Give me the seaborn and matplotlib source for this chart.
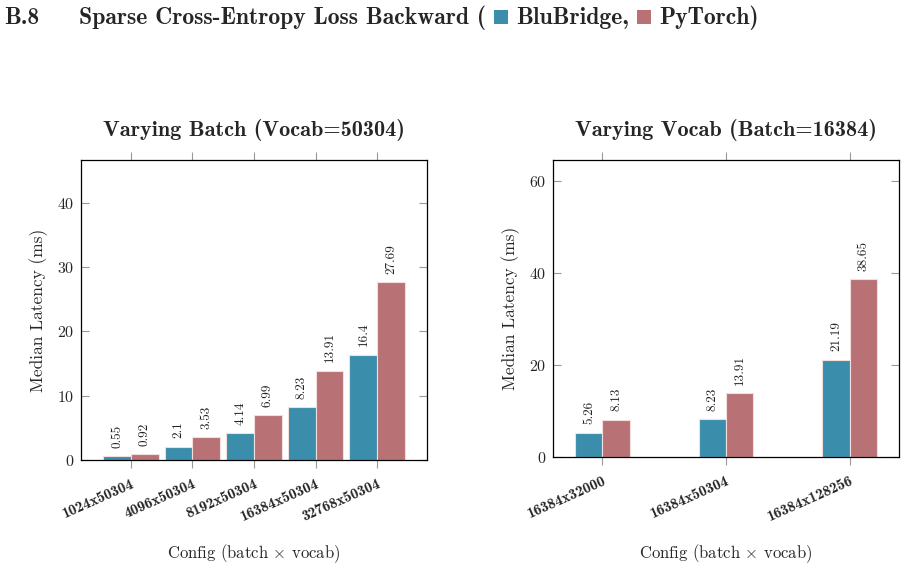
import numpy as np
import pandas as pd
import matplotlib
matplotlib.use("Agg")
import matplotlib.pyplot as plt
import seaborn as sns
from matplotlib.offsetbox import TextArea, DrawingArea, HPacker, AnchoredOffsetbox
from matplotlib.patches import Rectangle

sns.set_style("white")
plt.rcParams['font.family'] = ['cmr10', 'DejaVu Serif']
plt.rcParams['mathtext.fontset'] = 'cm'
plt.rcParams['axes.formatter.use_mathtext'] = True

# data
batch_configs = ["1024x50304", "4096x50304", "8192x50304", "16384x50304", "32768x50304"]
batch_blubridge = [0.55, 2.1, 4.14, 8.23, 16.4]
batch_pytorch = [0.92, 3.53, 6.99, 13.91, 27.69]

vocab_configs = ["16384x32000", "16384x50304", "16384x128256"]
vocab_blubridge = [5.26, 8.23, 21.19]
vocab_pytorch = [8.13, 13.91, 38.65]

series = ["BluBridge", "PyTorch"]
colors = {"BluBridge": "#3a8dab", "PyTorch": "#b87275"}

df_batch = pd.DataFrame({
    "config": batch_configs * 2,
    "impl": ["BluBridge"] * 5 + ["PyTorch"] * 5,
    "ms": batch_blubridge + batch_pytorch,
})
df_vocab = pd.DataFrame({
    "config": vocab_configs * 2,
    "impl": ["BluBridge"] * 3 + ["PyTorch"] * 3,
    "ms": vocab_blubridge + vocab_pytorch,
})

fig = plt.figure(figsize=(9.06, 5.64), dpi=100)
ax1 = fig.add_axes([0.0894, 0.1844, 0.382, 0.532])
ax2 = fig.add_axes([0.6104, 0.1897, 0.382, 0.5266])

bold = ['cmb10', 'DejaVu Serif']


def draw(ax, df, width, xlim, ylim, yticks, title):
    sns.barplot(data=df, x="config", y="ms", hue="impl", hue_order=series,
                palette=colors, width=width, dodge=True, ax=ax, saturation=1,
                edgecolor="#f3dede", linewidth=0.8, errorbar=None, legend=False)
    for c in ax.containers:
        ax.bar_label(c, fmt="%g", rotation=90, padding=6, fontsize=9.5,
                     color="#222222")
    ax.set_xlim(*xlim)
    ax.set_ylim(*ylim)
    ax.set_yticks(yticks)
    ax.set_title(title, fontsize=16, fontfamily=bold, pad=17)
    ax.set_ylabel("Median Latency (ms)", fontsize=12.5, labelpad=6)
    ax.set_xlabel(r"Config (batch $\times$ vocab)", fontsize=12, labelpad=13)
    for s in ax.spines.values():
        s.set_visible(True)
        s.set_color("black")
        s.set_linewidth(0.9)
    ax.tick_params(axis="y", direction="in", left=True, right=True,
                   length=6, color="#999999", labelsize=11.5, pad=5)
    ax.tick_params(axis="x", direction="out", bottom=True, top=True,
                   length=6, color="#999999", pad=6)
    for lab in ax.get_xticklabels():
        lab.set_rotation(24)
        lab.set_ha("right")
        lab.set_rotation_mode("anchor")
        lab.set_fontsize(11)
        lab.set_fontfamily(bold)


draw(ax1, df_batch, 0.9, (-0.81, 4.81), (0, 46.7), [0, 10, 20, 30, 40],
     "Varying Batch (Vocab=50304)")
draw(ax2, df_vocab, 0.44, (-0.4, 2.4), (0, 64.6), [0, 20, 40, 60],
     "Varying Vocab (Batch=16384)")


# header with inline legend
def sq(color):
    da = DrawingArea(10, 10, 0, 0)
    da.add_artist(Rectangle((0, 0), 10, 10, facecolor=color, edgecolor="none"))
    return da


tp = dict(fontsize=17, fontfamily=bold)
parts = [
    TextArea("B.8", textprops=tp),
    TextArea("Sparse Cross-Entropy Loss Backward (", textprops=tp),
    sq(colors["BluBridge"]),
    TextArea("BluBridge,", textprops=tp),
    sq(colors["PyTorch"]),
    TextArea("PyTorch)", textprops=tp),
]
head = HPacker(children=parts[:1], align="baseline", pad=0, sep=0)
rest = HPacker(children=parts[1:], align="baseline", pad=0, sep=6)
box = HPacker(children=[head, rest], align="baseline", pad=0, sep=28)
anch = AnchoredOffsetbox(loc="upper left", child=box, pad=0, frameon=False,
                         bbox_to_anchor=(0.005, 0.99),
                         bbox_transform=fig.transFigure, borderpad=0)
fig.add_artist(anch)

fig.savefig("out.png", dpi=100)
